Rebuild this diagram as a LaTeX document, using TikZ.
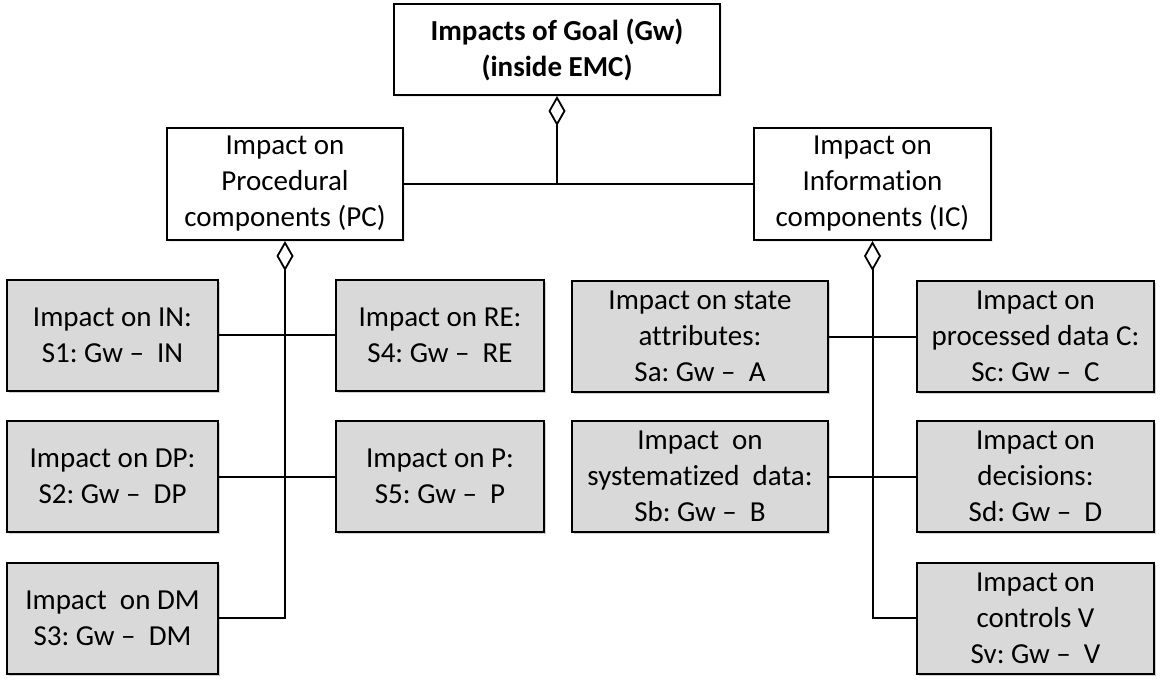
\documentclass[tikz,border=0pt]{standalone}
\usepackage{fontspec}
\setmainfont{Carlito}[Ligatures=NoCommon]
\usepackage{tikz}
\usetikzlibrary{
	arrows.meta,
	shadows,
	positioning
}
\definecolor{BoxGray}{RGB}{217,217,217}
\frenchspacing

\begin{document}
\begin{tikzpicture}[x=1pt, y=-1pt,
		font=\fontsize{29}{36}\selectfont,
		whole/.style={draw, line width=2pt, fill=white, align=center, inner sep=0pt,
			drop shadow={shadow xshift=2pt, shadow yshift=-2pt, opacity=.15}},
		part/.style={whole, fill=BoxGray, minimum height=111pt,
			drop shadow={shadow xshift=2pt, shadow yshift=-2pt, opacity=.25}},
		agg/.style={line width=2pt, {Diamond[open, length=30pt, width=17pt, line width=1.8pt]}-},
		link/.style={line width=2pt}]
		\useasboundingbox (0,0) rectangle (1164,683);
		% top and the two groups
		\node[whole, minimum width=326pt, minimum height=91pt, font=\fontsize{29}{36}\selectfont\bfseries] (goal) at (557,49.5) {Impacts of Goal (Gw)\\(inside EMC)};
		\node[whole, minimum width=236pt, minimum height=112pt] (pc) at (285,184) {Impact on\\Procedural\\components (PC)};
		\node[whole, minimum width=237pt, minimum height=112pt] (ic) at (872.5,184) {Impact on\\Information\\components (IC)};
		% procedural parts
		\node[part, minimum width=211pt] (in) at (112.5,335) {Impact on IN:\\S1: Gw –\ \ IN};
		\node[part, minimum width=211pt] (dp) at (112.5,476.5) {Impact on DP:\\S2: Gw –\ \ DP};
		\node[part, minimum width=211pt] (dm) at (112.5,618) {Impact\ \ on DM\\S3: Gw –\ \ DM};
		\node[part, minimum width=208pt] (re) at (440,335) {Impact on RE:\\S4: Gw –\ \ RE};
		\node[part, minimum width=208pt] (p) at (440,476.5) {Impact on P:\\S5: Gw –\ \ P};
		% information parts
		\node[part, minimum width=256pt] (sa) at (700,336.5) {Impact on state\\attributes:\\Sa: Gw –\ \ A};
		\node[part, minimum width=256pt] (sb) at (700,476.5) {Impact\ \ on\\systematized\ \ data:\\Sb: Gw –\ \ B};
		\node[part, minimum width=237pt] (sc) at (1035.5,336.5) {Impact on\\processed data C:\\Sc: Gw –\ \ C};
		\node[part, minimum width=237pt] (sd) at (1035.5,476.5) {Impact on\\decisions:\\Sd: Gw –\ \ D};
		\node[part, minimum width=237pt] (sv) at (1035.5,618) {Impact on\\controls V\\Sv: Gw –\ \ V};
		% connectors
		\draw[link] (pc.east) -- (ic.west);
		\draw[agg] (goal.south) -- (goal.south |- pc.east);
		\draw[agg] (pc.south) |- (dm.east);
		\draw[link] (in.east) -- (re.west);
		\draw[link] (dp.east) -- (p.west);
		\draw[agg] (ic.south) |- (sv.west);
		\draw[link] (sa.east) -- (sc.west);
		\draw[link] (sb.east) -- (sd.west);
	\end{tikzpicture}
\end{document}
